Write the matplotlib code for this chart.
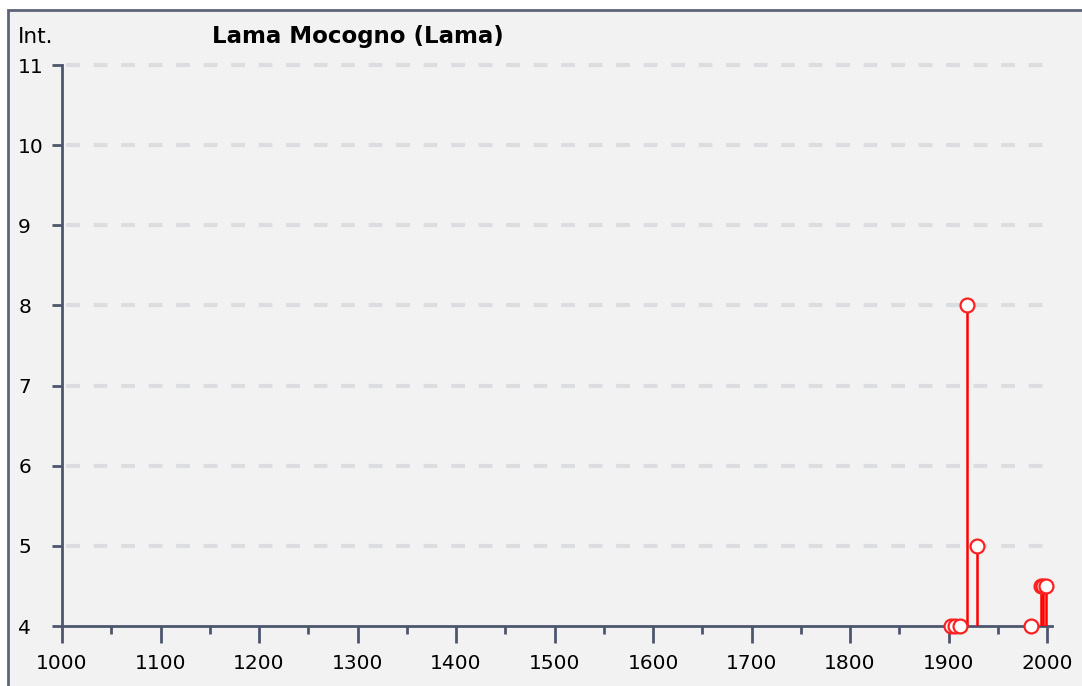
import matplotlib
matplotlib.use("Agg")
import matplotlib.pyplot as plt
from matplotlib.patches import Rectangle

# intensità dei terremoti storici risentiti a Lama Mocogno
anni = [1902, 1907, 1912, 1919, 1929, 1984, 1994, 1996, 1999]
intensita = [4, 4, 4, 8, 5, 4, 4.5, 4.5, 4.5]
yticks = [4, 5, 6, 7, 8, 9, 10, 11]
xticks = [1000, 1100, 1200, 1300, 1400, 1500, 1600, 1700, 1800, 1900, 2000]

W, H = 1082, 686
plt.rcParams.update({"font.family": "DejaVu Sans", "font.size": 14})
fig = plt.figure(figsize=(W / 100, H / 100), dpi=100, facecolor="white")

# pannello grigio con cornice
fig.patches.append(Rectangle((8 / W, -0.1), 1.2, 1 - 10 / H + 0.1, transform=fig.transFigure,
                             facecolor="#f2f2f2", edgecolor="#5e6478", lw=2, zorder=-5))

ax = fig.add_axes([62 / W, 1 - 626 / H, (1052 - 62) / W, (626 - 65) / H], zorder=2)
ax.set_facecolor("none")
ax.set_xlim(1000, 2005)
ax.set_ylim(4, 11)

for s in ["top", "right"]:
    ax.spines[s].set_visible(False)
for s in ["left", "bottom"]:
    ax.spines[s].set_color("#4e566e")
    ax.spines[s].set_linewidth(2)

for y in yticks[1:]:
    ax.axhline(y, color="#dcdde1", lw=3, ls=(-1, (3.3, 3.3)), zorder=1, clip_on=False)

ax.set_xticks(xticks)
ax.set_xticks(range(1050, 2000, 100), minor=True)
ax.set_yticks(yticks)
ax.tick_params(axis="x", which="major", length=12, width=2, color="#4e566e", pad=8, labelsize=14.5)
ax.tick_params(axis="x", which="minor", length=6, width=2, color="#4e566e")
ax.tick_params(axis="y", which="major", length=7.5, width=2, color="#4e566e", pad=24, labelsize=14.5)
for lab in ax.get_yticklabels():
    lab.set_horizontalalignment("left")

ax.vlines(anni, 4, intensita, color="#ff0000", lw=1.8, zorder=3)
ax.plot(anni, intensita, "o", ms=10, mfc="white", mec="#ff2020", mew=1.6,
        ls="none", zorder=4, clip_on=False)

fig.text(18 / W, 1 - 37 / H, "Int.", fontsize=15.5, va="center", ha="left")
fig.text(212 / W, 1 - 37 / H, "Lama Mocogno (Lama)", fontsize=16.5, fontweight="bold",
         va="center", ha="left")

fig.savefig("out.png", dpi=100)
